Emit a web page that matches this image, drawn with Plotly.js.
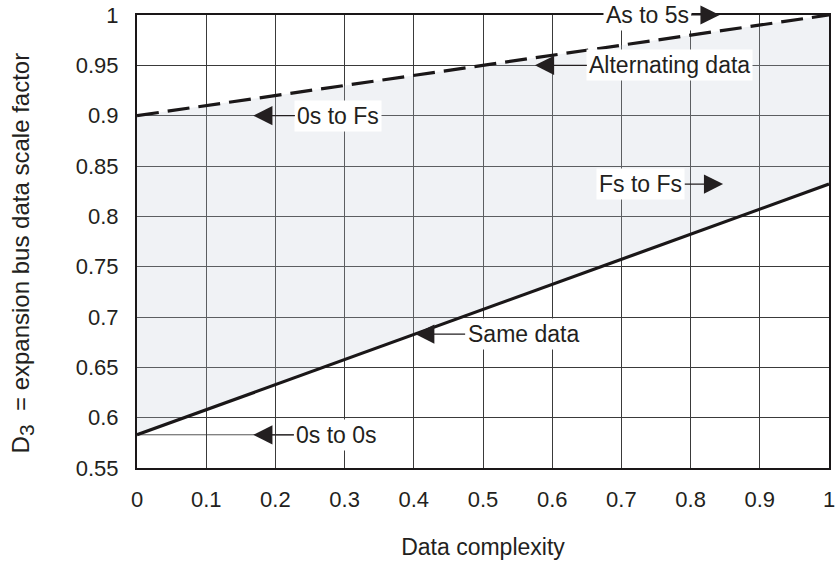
<!DOCTYPE html>
<html>
<head>
<meta charset="utf-8">
<script src="https://cdn.plot.ly/plotly-3.0.1.min.js"></script>
<style>html,body{margin:0;padding:0;background:#fff;}#chart{width:838px;height:565px;}</style>
</head>
<body>
<div id="chart"></div>
<script>
// Data
var complexity = [0, 1];
var alternatingData = [0.9, 1.0];   // dashed upper line
var sameData = [0.583, 0.832];      // solid lower line

var xTicks = [0, 0.1, 0.2, 0.3, 0.4, 0.5, 0.6, 0.7, 0.8, 0.9, 1];
var yTicks = [0.55, 0.6, 0.65, 0.7, 0.75, 0.8, 0.85, 0.9, 0.95, 1];

// Annotation labels and their positions (data coordinates)
var labels = ["As to 5s", "Alternating data", "0s to Fs", "Fs to Fs", "Same data", "0s to 0s"];
var tipX   = [0.842, 0.575, 0.168, 0.847, 0.402, 0.168];
var tipY   = [1.0,   0.95,  0.9,   0.832, 0.683, 0.583];
var textX  = [0.737, 0.770, 0.291, 0.728, 0.558, 0.289];

var xTitle = 'Data complexity';
var yTitle = 'D<sub><span style="font-size:21px">3</span></sub>\u00a0\u00a0= expansion bus data scale factor';

var traces = [
  {x: complexity, y: sameData, type: 'scatter', mode: 'lines',
   line: {color: 'rgba(0,0,0,0)', width: 0}, hoverinfo: 'skip', showlegend: false},
  {x: complexity, y: alternatingData, type: 'scatter', mode: 'lines',
   fill: 'tonexty', fillcolor: 'rgba(195,202,215,0.25)',
   line: {color: 'rgba(0,0,0,0)', width: 0}, hoverinfo: 'skip', showlegend: false},
  {x: complexity, y: alternatingData, type: 'scatter', mode: 'lines', name: 'Alternating data',
   line: {color: '#1a1718', width: 3.2, dash: '22px,9px'}, showlegend: false},
  {x: complexity, y: sameData, type: 'scatter', mode: 'lines', name: 'Same data',
   line: {color: '#1a1718', width: 3.2}, showlegend: false}
];

var fam = '"Liberation Sans", Arial, sans-serif';
var tickFont = {family: fam, size: 22, color: '#231f20'};
var annFont = {family: fam, size: 23, color: '#231f20'};
var titleFont = {family: fam, size: 23, color: '#231f20'};
var yTitleFont = {family: fam, size: 24, color: '#231f20'};

var annotations = labels.map(function (t, i) {
  return {
    x: tipX[i], y: tipY[i], xref: 'x', yref: 'y',
    ax: textX[i], ay: tipY[i], axref: 'x', ayref: 'y',
    text: t, showarrow: true, arrowhead: 2, arrowsize: 3.2, arrowwidth: 1.2,
    arrowcolor: '#231f20', bgcolor: '#ffffff', borderpad: 2,
    font: annFont
  };
});

// Y axis title placed as rotated annotation
annotations.push({
  xref: 'paper', yref: 'paper', x: -0.166, y: 0.474,
  xanchor: 'center', yanchor: 'middle', textangle: -90,
  text: yTitle, showarrow: false, font: yTitleFont
});

var shapes = [
  {type: 'line', xref: 'x', yref: 'y', x0: complexity[0], x1: textX[5], y0: tipY[5], y1: tipY[5],
   line: {color: '#555', width: 1}, layer: 'below'}
];

var layout = {
  width: 838, height: 565,
  margin: {l: 137, r: 9, t: 15, b: 97},
  paper_bgcolor: '#fff', plot_bgcolor: '#fff',
  font: tickFont,
  showlegend: false,
  xaxis: {
    range: [0, 1], tickvals: xTicks, ticks: '', ticklabelstandoff: 11,
    showgrid: true, gridcolor: '#3a3a3a', gridwidth: 1, zeroline: false,
    showline: true, linecolor: '#1a1718', linewidth: 2, mirror: true,
    tickfont: tickFont,
    title: {text: xTitle, font: titleFont, standoff: 27}
  },
  yaxis: {
    range: [0.55, 1], tickvals: yTicks, ticks: '', ticklabelstandoff: 12,
    showgrid: true, gridcolor: '#3a3a3a', gridwidth: 1, zeroline: false,
    showline: true, linecolor: '#1a1718', linewidth: 2, mirror: true,
    tickfont: tickFont
  },
  annotations: annotations,
  shapes: shapes
};

Plotly.newPlot('chart', traces, layout, {displayModeBar: false, staticPlot: true});
</script>
</body>
</html>
